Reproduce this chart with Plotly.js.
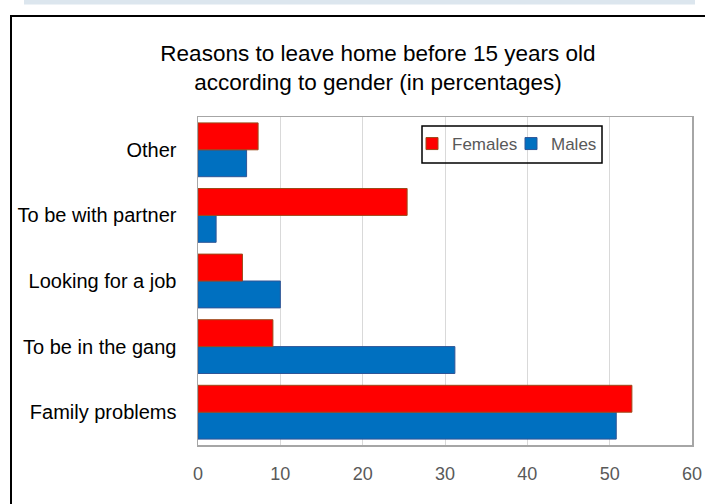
<!DOCTYPE html>
<html>
<head>
<meta charset="utf-8">
<script src="https://cdn.plot.ly/plotly-3.0.1.min.js"></script>
<style>
  html, body { margin: 0; padding: 0; background: #ffffff; }
  #chart { width: 717px; height: 504px; }
</style>
</head>
<body>
<div id="chart"></div>
<script>
// Data
const categories = ["Family problems", "To be in the gang", "Looking for a job", "To be with partner", "Other"];
const femalesValues = [52.7, 9.1, 5.4, 25.4, 7.3];
const malesValues = [50.8, 31.2, 10.0, 2.2, 5.9];
const xTickValues = [0, 10, 20, 30, 40, 50, 60];
const xTickLabels = ["0", "10", "20", "30", "40", "50", "60"];
const titleLines = ["Reasons to leave home before 15 years old", "according to gender (in percentages)"];

const FONT = "Liberation Sans, Arial, sans-serif";

// pixel -> paper helpers (plot area: x 198..692, y 117..445)
const px = v => (v - 198) / 494;
const py = v => (445 - v) / 328;

const traces = [
  {
    type: "bar",
    orientation: "h",
    name: "Males",
    y: categories,
    x: malesValues,
    marker: { color: "#0070C0", line: { color: "#2F5597", width: 1 } }
  },
  {
    type: "bar",
    orientation: "h",
    name: "Females",
    y: categories,
    x: femalesValues,
    marker: { color: "#FF0000", line: { color: "#9C4A1A", width: 1 } }
  }
];

const layout = {
  width: 717,
  height: 504,
  paper_bgcolor: "#ffffff",
  plot_bgcolor: "#ffffff",
  margin: { l: 198, r: 25, t: 117, b: 59, pad: 0 },
  barmode: "group",
  bargap: 0.18,
  bargroupgap: 0,
  title: {
    text: titleLines.join("<br>"),
    font: { family: FONT, size: 22.5, color: "#000000" },
    x: 378 / 717,
    xanchor: "center",
    xref: "container",
    y: 1 - 61 / 504,
    yanchor: "top",
    yref: "container"
  },
  xaxis: {
    range: [0, 60],
    tickvals: xTickValues,
    ticktext: xTickLabels,
    showgrid: true,
    gridcolor: "#D9D9D9",
    gridwidth: 1,
    zeroline: false,
    showline: true,
    mirror: true,
    linecolor: "#A6A6A6",
    linewidth: 1.5,
    ticks: "",
    tickfont: { family: FONT, size: 18, color: "#595959" },
    ticklabelstandoff: 12,
    fixedrange: true
  },
  yaxis: {
    type: "category",
    categoryorder: "array",
    categoryarray: categories,
    showgrid: false,
    zeroline: false,
    showline: true,
    mirror: true,
    linecolor: "#A6A6A6",
    linewidth: 1.5,
    ticks: "",
    tickfont: { family: FONT, size: 20, color: "#000000" },
    ticklabelstandoff: 16,
    fixedrange: true
  },
  legend: {
    orientation: "h",
    traceorder: "reversed",
    x: px(412),
    xanchor: "left",
    y: py(126),
    yanchor: "top",
    bgcolor: "rgba(0,0,0,0)",
    borderwidth: 0,
    font: { family: FONT, size: 17, color: "#595959" },
    entrywidth: 54,
    entrywidthmode: "pixels",
    tracegroupgap: 0
  },
  showlegend: true,
  shapes: [
    // light blue band at the very top
    {
      type: "rect", xref: "paper", yref: "paper", layer: "below",
      x0: px(24), x1: px(695), y0: py(4.5), y1: py(-3),
      fillcolor: "#DCE6EE", line: { width: 0 }
    },
    // outer black frame
    { type: "line", xref: "paper", yref: "paper", layer: "above",
      x0: px(10), x1: px(705), y0: py(16), y1: py(16), line: { color: "#000000", width: 2 } },
    { type: "line", xref: "paper", yref: "paper", layer: "above",
      x0: px(11), x1: px(11), y0: py(15), y1: py(520), line: { color: "#000000", width: 2 } },
    // legend box
    { type: "rect", xref: "paper", yref: "paper", layer: "above",
      x0: px(422), x1: px(602), y0: py(163), y1: py(126),
      fillcolor: "rgba(0,0,0,0)", line: { color: "#000000", width: 1.5 } }
  ]
};

Plotly.newPlot("chart", traces, layout, { displayModeBar: false, staticPlot: true });
</script>
</body>
</html>
